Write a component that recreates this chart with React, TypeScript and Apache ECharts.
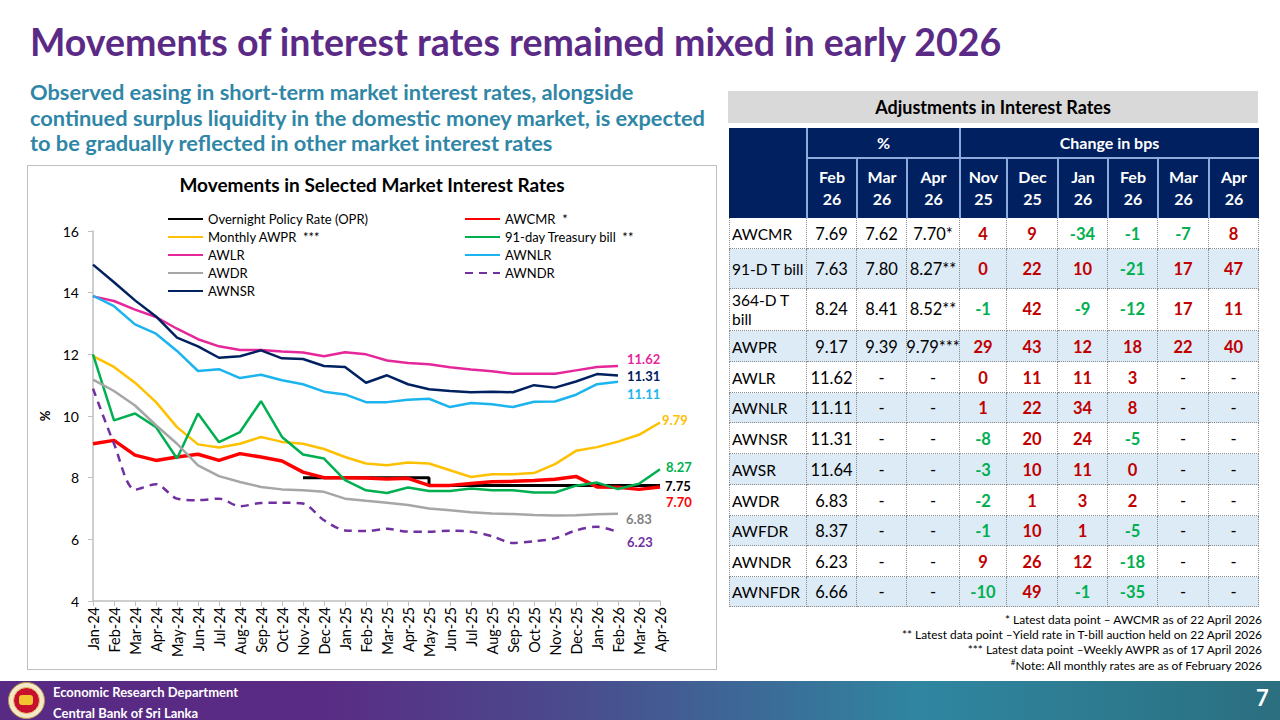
import React, { useEffect, useRef } from "react";
import * as echarts from "echarts";

// ---------------- Chart data ----------------
const categories = [
  "Jan-24", "Feb-24", "Mar-24", "Apr-24", "May-24", "Jun-24", "Jul-24", "Aug-24", "Sep-24", "Oct-24",
  "Nov-24", "Dec-24", "Jan-25", "Feb-25", "Mar-25", "Apr-25", "May-25", "Jun-25", "Jul-25", "Aug-25",
  "Sep-25", "Oct-25", "Nov-25", "Dec-25", "Jan-26", "Feb-26", "Mar-26", "Apr-26",
];
const yTicks = [4, 6, 8, 10, 12, 14, 16];

const opr = [
  null, null, null, null, null, null, null, null, null, null,
  8.0, 8.0, 8.0, 8.0, 8.0, 8.0,
  7.75, 7.75, 7.75, 7.75, 7.75, 7.75, 7.75, 7.75, 7.75, 7.75, 7.75, 7.75,
];
const awcmr = [9.1, 9.21, 8.73, 8.56, 8.67, 8.76, 8.56, 8.78, 8.67, 8.54, 8.18, 8.0, 8.0, 7.99, 7.96, 7.98, 7.75, 7.75, 7.81, 7.87, 7.88, 7.91, 7.95, 8.04, 7.7, 7.69, 7.62, 7.7];
const awpr = [11.94, 11.59, 11.08, 10.45, 9.64, 9.08, 8.98, 9.1, 9.32, 9.16, 9.1, 8.93, 8.67, 8.46, 8.4, 8.49, 8.46, 8.24, 8.02, 8.11, 8.11, 8.15, 8.44, 8.87, 8.99, 9.17, 9.39, 9.79];
const tbill91 = [12.0, 9.86, 10.08, 9.64, 8.62, 10.08, 9.15, 9.48, 10.48, 9.32, 8.75, 8.62, 7.92, 7.59, 7.5, 7.68, 7.57, 7.57, 7.65, 7.59, 7.59, 7.52, 7.52, 7.74, 7.84, 7.63, 7.8, 8.27];
const awlr = [13.88, 13.73, 13.45, 13.21, 12.83, 12.49, 12.26, 12.14, 12.14, 12.09, 12.06, 11.94, 12.07, 12.0, 11.8, 11.72, 11.68, 11.58, 11.51, 11.45, 11.37, 11.37, 11.37, 11.48, 11.59, 11.62];
const awnlr = [13.9, 13.56, 12.97, 12.67, 12.11, 11.46, 11.52, 11.23, 11.34, 11.16, 11.03, 10.79, 10.7, 10.45, 10.45, 10.53, 10.56, 10.29, 10.42, 10.38, 10.29, 10.46, 10.47, 10.69, 11.03, 11.11];
const awdr = [11.18, 10.81, 10.34, 9.7, 9.1, 8.4, 8.05, 7.86, 7.7, 7.62, 7.59, 7.54, 7.32, 7.25, 7.19, 7.11, 7.0, 6.94, 6.88, 6.84, 6.82, 6.79, 6.77, 6.78, 6.81, 6.83];
const awndr = [10.89, 9.1, 7.61, 7.79, 7.32, 7.27, 7.32, 7.07, 7.18, 7.19, 7.16, 6.62, 6.29, 6.27, 6.34, 6.25, 6.25, 6.28, 6.25, 6.1, 5.88, 5.94, 6.03, 6.29, 6.41, 6.23];
const awnsr = [14.91, 14.34, 13.75, 13.23, 12.54, 12.26, 11.89, 11.94, 12.13, 11.87, 11.85, 11.62, 11.59, 11.08, 11.32, 11.03, 10.87, 10.81, 10.77, 10.79, 10.77, 11.0, 10.92, 11.12, 11.36, 11.31];

// ---------------- Table data ----------------
const tableTitle = "Adjustments in Interest Rates";
const pctMonths = [["Feb", "26"], ["Mar", "26"], ["Apr", "26"]];
const bpsMonths = [["Nov", "25"], ["Dec", "25"], ["Jan", "26"], ["Feb", "26"], ["Mar", "26"], ["Apr", "26"]];
const rowNames = ["AWCMR", "91-D T bill", "364-D T\nbill", "AWPR", "AWLR", "AWNLR", "AWNSR", "AWSR", "AWDR", "AWFDR", "AWNDR", "AWNFDR"];
const pctFeb26 = ["7.69", "7.63", "8.24", "9.17", "11.62", "11.11", "11.31", "11.64", "6.83", "8.37", "6.23", "6.66"];
const pctMar26 = ["7.62", "7.80", "8.41", "9.39", "-", "-", "-", "-", "-", "-", "-", "-"];
const pctApr26 = ["7.70*", "8.27**", "8.52**", "9.79***", "-", "-", "-", "-", "-", "-", "-", "-"];
const bpsNov25 = [4, 0, -1, 29, 0, 1, -8, -3, -2, -1, 9, -10];
const bpsDec25 = [9, 22, 42, 43, 11, 22, 20, 10, 1, 10, 26, 49];
const bpsJan26 = [-34, 10, -9, 12, 11, 34, 24, 11, 3, 1, 12, -1];
const bpsFeb26 = [-1, -21, -12, 18, 3, 8, -5, 0, 2, -5, -18, -35];
const bpsMar26 = [-7, 17, 17, 22, null, null, null, null, null, null, null, null];
const bpsApr26 = [8, 47, 11, 40, null, null, null, null, null, null, null, null];

const footnotes = [
  "* Latest data point \u2013 AWCMR as of 22 April 2026",
  "** Latest data point \u2013Yield rate in T-bill auction held on 22 April 2026",
  "*** Latest data point \u2013Weekly AWPR as of 17 April 2026",
];
const noteText = "Note: All monthly rates are as of February 2026";

// ---------------- Layout ----------------
const FONT = "Lato, 'Noto Sans', sans-serif";
const COLX = [729, 807, 857, 907, 960, 1007, 1058, 1108, 1158, 1209, 1259];
const ROWY = [217.5, 248.5, 289, 331, 362, 392.5, 423.3, 454, 485, 515.7, 546, 576.7, 607.3];
const NAVY = "#002060";
const RED = "#C00000";
const GREEN = "#00B050";

function Chart() {
  const ref = useRef<HTMLDivElement>(null);
  useEffect(() => {
    if (!ref.current) return;
    const chart = echarts.init(ref.current, undefined, { renderer: "svg" });
    const endLabel = (color: string, offset: number[]) => ({
      show: true,
      distance: 0,
      offset,
      color,
      fontFamily: FONT,
      fontWeight: "bold",
      fontSize: 13,
      formatter: (p: any) => {
        const v = Array.isArray(p.value) ? p.value[1] : p.value;
        return Number(v).toFixed(2);
      },
    });
    const line = (name: string, data: any[], color: string, width: number, offset: number[], extra: any = {}) => ({
      name,
      type: "line",
      data,
      symbol: "none",
      showSymbol: false,
      connectNulls: false,
      lineStyle: { color, width, ...(extra.lineStyle || {}) },
      itemStyle: { color },
      endLabel: endLabel(extra.labelColor || color, offset),
      emphasis: { disabled: true },
      ...(extra.series || {}),
    });
    const legendText = { fontFamily: FONT, fontSize: 13, color: "#000", lineHeight: 18 };
    const legendBase = {
      orient: "vertical",
      top: 44,
      padding: 0,
      itemWidth: 35,
      itemHeight: 3,
      itemGap: 0,
      itemStyle: { opacity: 0 },
      textStyle: legendText,
    };
    chart.setOption({
      animation: false,
      title: {
        text: "Movements in Selected Market Interest Rates",
        left: "center",
        top: 4,
        textStyle: { fontFamily: FONT, fontSize: 19, fontWeight: "bold", color: "#000" },
      },
      legend: [
        {
          ...legendBase,
          left: 139,
          data: ["Overnight Policy Rate (OPR)", "Monthly AWPR \u00A0***", "AWLR", "AWDR", "AWNSR"],
        },
        {
          ...legendBase,
          left: 436,
          data: ["AWCMR \u00A0*", "91-day Treasury bill \u00A0**", "AWNLR", "AWNDR"],
        },
      ],
      grid: { left: 65, right: 56, top: 65, bottom: 68 },
      xAxis: {
        type: "category",
        data: categories,
        boundaryGap: false,
        axisLine: { lineStyle: { color: "#BFBFBF", width: 1.5 } },
        axisTick: { show: true, alignWithLabel: true, length: 5, lineStyle: { color: "#BFBFBF" } },
        axisLabel: { rotate: 90, interval: 0, margin: 6, fontFamily: FONT, fontSize: 14.5, color: "#000" },
        splitLine: { show: false },
      },
      yAxis: {
        type: "value",
        min: yTicks[0],
        max: yTicks[yTicks.length - 1],
        interval: 2,
        name: "%",
        nameLocation: "middle",
        nameGap: 41,
        nameTextStyle: { fontFamily: FONT, fontSize: 13, fontWeight: "bold", color: "#000" },
        axisLine: { show: true, lineStyle: { color: "#BFBFBF", width: 1.5 } },
        axisTick: { show: true, length: 5, lineStyle: { color: "#BFBFBF" } },
        axisLabel: { margin: 14, fontFamily: FONT, fontSize: 14, color: "#000" },
        splitLine: { show: false },
      },
      series: [
        line("Overnight Policy Rate (OPR)", opr, "#000000", 3, [5, 1], { series: { step: "end" } }),
        line("AWCMR \u00A0*", awcmr, "#FF0000", 3.5, [6, 15]),
        line("Monthly AWPR \u00A0***", awpr, "#FFC000", 2.5, [2, -2]),
        line("91-day Treasury bill \u00A0**", tbill91, "#00B050", 2.5, [6, -2]),
        line("AWLR", awlr, "#E6279B", 2.5, [9, -7]),
        line("AWNLR", awnlr, "#1CB4EE", 2.5, [9, 12]),
        line("AWDR", awdr, "#A6A6A6", 2.5, [8, 5], { labelColor: "#7F7F7F" }),
        line("AWNDR", awndr, "#7030A0", 2.5, [9, 10], { lineStyle: { type: [8, 6] }, series: { smooth: 0.3 } }),
        line("AWNSR", awnsr, "#002060", 2.5, [9, 0]),
      ],
    });
    return () => chart.dispose();
  }, []);
  return <div ref={ref} style={{ position: "absolute", left: 0, top: 0, width: 688, height: 503 }} />;
}

function abs(left: number, top: number, width: number, height: number, extra: React.CSSProperties = {}): React.CSSProperties {
  return { position: "absolute", left, top, width, height, boxSizing: "border-box", ...extra };
}

function Table() {
  const cells: React.ReactNode[] = [];
  const headLine = "#8FAADC";
  cells.push(<div key="hbg" style={abs(COLX[0], 128, COLX[10] - COLX[0], ROWY[0] - 128, { background: NAVY })} />);
  cells.push(<div key="hl" style={abs(COLX[1], 157, COLX[10] - COLX[1], 1.5, { background: headLine })} />);
  [1, 4].forEach((c) =>
    cells.push(<div key={"hv" + c} style={abs(COLX[c] - 0.75, 128, 1.5, ROWY[0] - 128, { background: headLine })} />)
  );
  [2, 3, 5, 6, 7, 8, 9].forEach((c) =>
    cells.push(<div key={"hv" + c} style={abs(COLX[c] - 0.75, 157, 1.5, ROWY[0] - 157, { background: headLine })} />)
  );
  const headText: React.CSSProperties = {
    color: "#fff",
    fontWeight: "bold",
    fontSize: 16,
    fontFamily: FONT,
    display: "flex",
    alignItems: "center",
    justifyContent: "center",
    textAlign: "center",
    lineHeight: "22px",
  };
  cells.push(<div key="pct" style={abs(COLX[1], 128, COLX[4] - COLX[1], 29, headText)}>%</div>);
  cells.push(<div key="chg" style={abs(COLX[4], 128, COLX[10] - COLX[4], 29, headText)}>Change in bps</div>);
  [...pctMonths, ...bpsMonths].forEach((m, i) =>
    cells.push(
      <div key={"m" + i} style={abs(COLX[i + 1], 158, COLX[i + 2] - COLX[i + 1], ROWY[0] - 158, headText)}>
        {m[0]}
        <br />
        {m[1]}
      </div>
    )
  );
  const bpsCols = [bpsNov25, bpsDec25, bpsJan26, bpsFeb26, bpsMar26, bpsApr26];
  const pctCols = [pctFeb26, pctMar26, pctApr26];
  rowNames.forEach((name, r) => {
    const top = ROWY[r];
    const h = ROWY[r + 1] - ROWY[r];
    const bg = r % 2 === 1 ? "#DDEBF7" : "#FFFFFF";
    cells.push(<div key={"bg" + r} style={abs(COLX[0], top, COLX[10] - COLX[0], h, { background: bg })} />);
    const base: React.CSSProperties = {
      fontFamily: FONT,
      fontSize: 16.5,
      color: "#000",
      display: "flex",
      alignItems: "center",
      borderRight: "1px dotted #8C8C8C",
      borderBottom: "1px dotted #8C8C8C",
      lineHeight: "19px",
      whiteSpace: "pre",
      paddingTop: r === 2 ? 0 : 3,
    };
    cells.push(
      <div key={"n" + r} style={abs(COLX[0], top, COLX[1] - COLX[0], h, { ...base, fontSize: 15.5, paddingLeft: 2, borderLeft: "1px dotted #8C8C8C" })}>
        {name}
      </div>
    );
    pctCols.forEach((col, c) =>
      cells.push(
        <div key={"p" + r + "_" + c} style={abs(COLX[c + 1], top, COLX[c + 2] - COLX[c + 1], h, { ...base, justifyContent: "center" })}>
          {col[r]}
        </div>
      )
    );
    bpsCols.forEach((col, c) => {
      const v = col[r];
      const txt = v === null ? "-" : String(v);
      const color = v === null ? "#000" : v < 0 ? GREEN : RED;
      cells.push(
        <div
          key={"b" + r + "_" + c}
          style={abs(COLX[c + 4], top, COLX[c + 5] - COLX[c + 4], h, {
            ...base,
            justifyContent: "center",
            color,
            fontWeight: v === null ? "normal" : "bold",
          })}
        >
          {txt}
        </div>
      );
    });
  });
  return <>{cells}</>;
}

export default function App() {
  return (
    <div
      style={{
        position: "fixed",
        left: 0,
        top: 0,
        width: 1280,
        height: 720,
        overflow: "hidden",
        background: "#fff",
        fontFamily: FONT,
      }}
    >
      <div style={{ position: "absolute", left: 30, top: 20, fontSize: 37.5, fontWeight: "bold", color: "#5B2A86", lineHeight: "44px", whiteSpace: "nowrap" }}>
        Movements of interest rates remained mixed in early 2026
      </div>
      {[
        "Observed easing in short-term market interest rates, alongside",
        "continued surplus liquidity in the domestic money market, is expected",
        "to be gradually reflected in other market interest rates",
      ].map((t, i) => (
        <div
          key={i}
          style={{
            position: "absolute",
            left: 30,
            top: 79 + i * 25.5,
            fontSize: 21.8,
            fontWeight: "bold",
            color: "#2F86A6",
            lineHeight: "26px",
            whiteSpace: "nowrap",
          }}
        >
          {t}
        </div>
      ))}

      <div style={abs(27, 165, 690, 505, { border: "1px solid #BFBFBF" })}>
        <Chart />
      </div>

      <div
        style={abs(728, 91, 530, 32, {
          background: "#D9D9D9",
          display: "flex",
          alignItems: "center",
          justifyContent: "center",
          fontSize: 18,
          fontWeight: "bold",
          color: "#000",
        })}
      >
        {tableTitle}
      </div>
      <Table />

      {footnotes.map((t, i) => (
        <div
          key={"f" + i}
          style={{ position: "absolute", right: 18, top: 612 + i * 14.8, fontSize: 11.9, lineHeight: "15px", color: "#000", whiteSpace: "nowrap" }}
        >
          {t}
        </div>
      ))}
      <div style={{ position: "absolute", right: 18, top: 655, fontSize: 11.9, lineHeight: "15px", color: "#000", whiteSpace: "nowrap" }}>
        <sup style={{ fontSize: 8 }}>#</sup>
        {noteText}
      </div>

      <div
        style={abs(0, 681, 1280, 39, {
          background: "linear-gradient(to right, #592A84 0%, #5A2B84 25%, #4A4C8E 45%, #2F86A0 72%, #2B6F80 100%)",
        })}
      />
      <div style={abs(8, 682, 37, 37, { borderRadius: "50%", background: "#F3E9C8", border: "1.5px solid #B89A4A" })} />
      <div style={abs(13, 687, 27, 27, { borderRadius: "50%", background: "#C8102E", border: "1px solid #E8C870" })} />
      <div style={abs(19, 695, 14, 10, { background: "#F2C230", borderRadius: 3 })} />
      <div style={{ position: "absolute", left: 53, top: 683, fontSize: 13, fontWeight: "bold", color: "#fff", lineHeight: "18px", whiteSpace: "nowrap" }}>
        Economic Research Department
      </div>
      <div style={{ position: "absolute", left: 53, top: 704, fontSize: 13, fontWeight: "bold", color: "#fff", lineHeight: "18px", whiteSpace: "nowrap" }}>
        Central Bank of Sri Lanka
      </div>
      <div style={{ position: "absolute", left: 1256, top: 684, fontSize: 22, fontWeight: "bold", color: "#fff", lineHeight: "28px" }}>7</div>
    </div>
  );
}
